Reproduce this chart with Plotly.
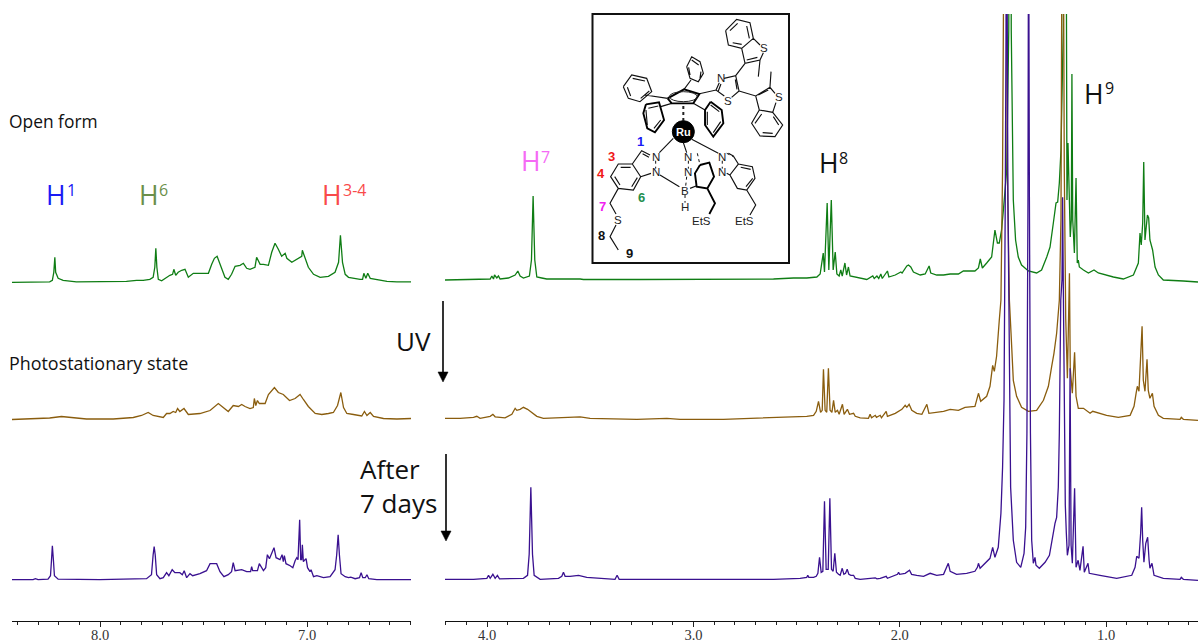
import plotly.graph_objects as go

# ---------- chemical shifts (ppm) and intensities ----------
open_arom_ppm = [8.426,8.324,8.244,8.231,8.224,8.219,8.215,8.203,8.179,8.115,8.002,7.873,7.824,7.792,7.760,7.744,7.736,7.731,7.726,7.719,7.703,7.679,7.663,7.650,7.644,7.635,7.623,7.606,7.590,7.574,7.550,7.534,7.518,7.477,7.461,7.448,7.435,7.421,7.397,7.381,7.365,7.348,7.324,7.308,7.292,7.276,7.252,7.244,7.236,7.227,7.211,7.187,7.171,7.155,7.139,7.123,7.106,7.098,7.074,7.050,7.026,7.023,7.010,6.994,6.969,6.937,6.897,6.865,6.848,6.839,6.829,6.816,6.800,6.776,6.744,6.732,6.726,6.716,6.707,6.695,6.671,6.614,6.566,6.498]
open_arom_int = [0,0.3,0.5,2,10,25,10,4,2,0.5,0.5,1,2,2,3,5,15,34,15,3,1.5,5,7,8,13,7,10,12,13,5,9,9,9,9,18,24,26,18,5,3,8,16,17,19,14,13,15,25,22,18,18,17,30,39,33,26,29,24,20,23,26,32,25,15,8,5,6,10,20,47,20,8,5,4,3,3,9,4,9,4,3,1,0.5,0.5]

pss_arom_ppm = [8.426,8.324,8.244,8.187,8.131,8.066,7.937,7.840,7.800,7.768,7.744,7.695,7.679,7.663,7.647,7.635,7.626,7.615,7.595,7.574,7.518,7.469,7.429,7.405,7.381,7.357,7.332,7.316,7.300,7.276,7.260,7.255,7.248,7.240,7.231,7.203,7.187,7.158,7.139,7.115,7.085,7.058,7.034,7.018,6.994,6.961,6.929,6.897,6.873,6.853,6.837,6.824,6.808,6.776,6.736,6.723,6.711,6.695,6.679,6.631,6.566,6.498]
pss_arom_int = [0,0.5,1.5,3,2,0.5,0.5,2,4,7,4,2,6,6,8,7,11,8,11,5,6,9,16,12,8,14,13,15,13,11,12,21,14,19,16,16,25,32,27,25,19,21,25,20,13,6,5,6,7,14,27,12,6,5,3.5,8,4,7,3,1,0.5,1]

after_arom_ppm = [8.426,8.324,8.313,8.300,8.252,8.240,8.235,8.231,8.226,8.221,8.203,8.002,7.776,7.752,7.744,7.739,7.734,7.727,7.711,7.695,7.679,7.668,7.652,7.639,7.615,7.603,7.594,7.582,7.566,7.553,7.518,7.486,7.469,7.437,7.421,7.402,7.381,7.365,7.357,7.348,7.316,7.292,7.273,7.268,7.263,7.240,7.231,7.211,7.200,7.192,7.182,7.166,7.160,7.150,7.131,7.121,7.115,7.110,7.102,7.082,7.069,7.058,7.050,7.044,7.036,7.031,7.026,7.023,7.018,7.010,7.005,6.998,6.986,6.981,6.969,6.953,6.921,6.889,6.865,6.857,6.850,6.844,6.836,6.816,6.800,6.789,6.768,6.747,6.739,6.731,6.719,6.711,6.702,6.663,6.498]
after_arom_int = [0,0,1,0,0.5,4,20,34,20,4,0.5,0,1,5,25,33,25,5,1,2,7,4,10,7,7,5,9,2,6,4,6,9,16,16,8,3,5,8,17,9,10,8,8,13,9,9,16,9,12,25,21,29,32,22,20,25,18,24,16,14,12,19,22,20,60,20,20,35,18,20,21,12,8,10,3,4,2,3,10,25,45,25,6,3,2,2.5,1,2,7,2,2,5,1,0,0]

open_aliph_ppm = [4.204,4.066,3.985,3.977,3.969,3.964,3.953,3.945,3.937,3.897,3.864,3.851,3.840,3.824,3.795,3.785,3.777,3.769,3.759,3.735,3.711,3.549,3.533,3.258,2.935,2.774,2.612,2.515,2.451,2.402,2.386,2.371,2.365,2.352,2.344,2.332,2.323,2.313,2.305,2.294,2.286,2.279,2.266,2.258,2.249,2.241,2.220,2.192,2.160,2.131,2.124,2.111,2.102,2.092,2.085,2.060,2.053,2.022,1.995,1.989,1.966,1.958,1.947,1.934,1.901,1.877,1.858,1.850,1.821,1.788,1.756,1.716,1.692,1.636,1.619,1.610,1.600,1.579,1.555,1.539,1.527,1.518,1.507,1.498,1.482,1.472,1.464,1.460,1.456,1.450,1.439,1.426,1.410,1.377,1.337,1.313,1.288,1.272,1.256,1.243,1.235,1.227,1.219,1.208,1.198,1.193,1.190,1.185,1.178,1.174,1.169,1.166,1.162,1.159,1.154,1.146,1.140,1.135,1.130,1.110,1.086,1.059,1.038,0.965,0.917,0.868,0.844,0.836,0.830,0.823,0.818,0.812,0.807,0.800,0.794,0.788,0.775,0.763,0.747,0.723,0.626,0.555]
open_aliph_int = [0,1,1,4,1,5,2,4,1,2,5,9,4,2,4,20,84,20,3,2,1,1,0.5,0.5,0.5,0.5,1,2,2,3,6,27,8,77,10,80,10,28,6,4,10,4,17,5,13,4,3,2,0.5,4,1.5,4,1.5,6,1.5,9,3,5,8,7,14,15,13,8,5,6,14,7,5,5,6,6,9,9,12,21,12,17,23,50,37,37,50,70,110,250,700,250,147,80,40,23,15,9,7,10,23,33,57,77,78,97,130,250,700,200,80,137,63,43,60,206,60,43,27,102,17,20,13,10,7,10,7,3,1,5,17,47,35,57,118,40,50,65,62,40,30,13,5,0,-1,-2]

pss_aliph_ppm = [4.204,4.131,4.066,4.050,4.034,3.985,3.972,3.961,3.913,3.880,3.864,3.856,3.840,3.824,3.804,3.783,3.759,3.727,3.565,3.549,3.501,3.274,3.129,3.065,2.855,2.693,2.531,2.451,2.418,2.405,2.394,2.384,2.376,2.370,2.362,2.354,2.346,2.338,2.329,2.321,2.313,2.302,2.294,2.278,2.270,2.254,2.244,2.224,2.216,2.192,2.152,2.144,2.137,2.119,2.113,2.095,2.089,2.066,2.060,2.022,1.990,1.974,1.966,1.955,1.942,1.918,1.893,1.869,1.859,1.821,1.788,1.756,1.716,1.684,1.636,1.628,1.619,1.608,1.579,1.563,1.550,1.542,1.531,1.518,1.510,1.502,1.490,1.479,1.469,1.461,1.450,1.434,1.410,1.377,1.337,1.304,1.280,1.264,1.253,1.240,1.227,1.219,1.211,1.203,1.196,1.188,1.178,1.174,1.169,1.164,1.153,1.146,1.135,1.110,1.078,1.065,0.998,0.941,0.884,0.865,0.855,0.849,0.841,0.834,0.826,0.820,0.812,0.802,0.796,0.788,0.776,0.768,0.747,0.723,0.642,0.636,0.626,0.555]
pss_aliph_int = [0,0,1,2,0,2,4,1.5,0.5,4,10,8,9,11,9,6,2,0,1,1.5,0,-1,0,-1,-1,0,1,2,3,7,17,6,8,49,8,6,50,8,6,18,6,8,4,14,4,9,4,5,2,0.5,0,4,0.5,3,1,3,0.5,7,2,5,9,13,11,14,8,5,4,14,5,6,7,9,8,11,12,18,25,17,22,32,53,47,62,98,118,250,700,250,118,85,38,22,11,7,8,18,32,52,65,85,118,200,700,250,100,40,145,50,40,25,66,22,10,10,5,7,3,1,3,12,25,32,27,52,92,38,27,59,28,20,25,12,3,0,-1,1,-1,-2]

after_aliph_ppm = [4.204,4.066,4.001,3.993,3.985,3.972,3.961,3.950,3.940,3.872,3.824,3.804,3.796,3.788,3.780,3.772,3.743,3.654,3.638,3.630,3.622,3.598,3.557,3.517,3.452,3.380,3.370,3.360,3.258,2.935,2.612,2.483,2.451,2.446,2.441,2.418,2.405,2.397,2.389,2.381,2.373,2.365,2.357,2.347,2.339,2.331,2.323,2.315,2.307,2.297,2.289,2.279,2.271,2.263,2.255,2.247,2.237,2.224,2.216,2.192,2.144,2.119,2.111,2.095,2.066,2.060,2.011,2.006,2.001,1.974,1.953,1.943,1.918,1.885,1.853,1.821,1.788,1.765,1.756,1.725,1.676,1.636,1.624,1.619,1.611,1.587,1.563,1.550,1.539,1.523,1.510,1.502,1.495,1.489,1.482,1.476,1.469,1.463,1.450,1.434,1.414,1.398,1.390,1.384,1.379,1.376,1.372,1.367,1.361,1.353,1.345,1.340,1.324,1.296,1.275,1.264,1.248,1.240,1.232,1.227,1.220,1.214,1.211,1.208,1.204,1.201,1.198,1.193,1.188,1.180,1.175,1.170,1.164,1.153,1.146,1.136,1.127,1.112,1.106,1.088,1.082,1.030,0.949,0.876,0.860,0.852,0.841,0.833,0.828,0.823,0.817,0.808,0.799,0.792,0.788,0.778,0.768,0.723,0.642,0.636,0.626,0.555]
after_aliph_int = [0,0,1,4,1,5,1,4,0.5,1,1,4,25,92,25,4,0,1,3,7,3,3,4,2,1,0,4,0,0,0,0,1,2,4,2,2,3,6,22,7,8,78,10,10,81,10,8,26,7,5,4,11,5,6,10,5,4,4,1,0,0.5,1.5,0.5,1,3,1,5,7,5,6,9,5,4,3,6,4,5,16,8,5,6,8,12,16,11,16,21,32,22,32,66,112,179,379,700,379,179,92,39,17,12,26,52,146,379,700,379,146,39,16,22,14,11,17,24,39,56,62,92,146,279,300,382,300,212,134,74,46,24,34,211,34,16,91,12,19,9,33,7,16,6,4,1,4,12,23,21,46,72,39,17,36,42,19,11,16,4,1,0,2,0,-1]

spectra_left = [("Open form", open_arom_ppm, open_arom_int, 359.7, "#0f7d14"),
                ("Photostationary state", pss_arom_ppm, pss_arom_int, 222.5, "#8a5d0e"),
                ("After 7 days", after_arom_ppm, after_arom_int, 62.3, "#3a1190")]
spectra_right = [("Open form", open_aliph_ppm, open_aliph_int, 362.0, "#0f7d14"),
                 ("Photostationary state", pss_aliph_ppm, pss_aliph_int, 223.7, "#8a5d0e"),
                 ("After 7 days", after_aliph_ppm, after_aliph_int, 62.7, "#3a1190")]

W, H = 1198, 642
def px(x): return x / W
def py(y): return 1 - y / H

fig = go.Figure()
for xa, group in (("x", spectra_left), ("x2", spectra_right)):
    for name, ppm, inten, base, col in group:
        fig.add_trace(go.Scatter(x=ppm, y=[base + v for v in inten], mode="lines", xaxis=xa, yaxis="y",
                                 name=name, showlegend=False, hoverinfo="skip",
                                 line=dict(color=col, width=1.3)))

axis_style = dict(anchor="free", position=21 / H, automargin=False, showgrid=False, zeroline=False, showline=True,
                  linecolor="#111", linewidth=1.3, ticks="outside", ticklen=5, tickwidth=1, tickcolor="#222",
                  tick0=0, dtick=1, tickformat=".1f", ticklabelstandoff=-5,
                  minor=dict(dtick=0.1, tick0=0, ticks="outside", ticklen=3, tickwidth=1, tickcolor="#222", showgrid=False),
                  tickfont=dict(family="Liberation Serif", size=14.5, color="#333"))

# ---------- inset structure: drawn in the inset's own frame ----------
OX, OY, S = 590, 10, 1 / 3
def sx(v): return px(OX + v * S)
def sy(v): return py(OY + v * S)

thin = [
 [(407,62),(440,28),(480,38),(490,85),(455,115),(415,105),(407,62)], [(420,62),(443,40)], [(470,48),(478,85)], [(428,98),(455,103)],
 [(490,85),(510,105)], [(520,128),(510,150),(465,160),(455,115)], [(502,142),(470,150)], [(510,150),(505,200)], [(465,160),(437,197)],
 [(378,240),(388,218)], [(385,243),(393,222)], [(402,205),(437,197),(447,243),(425,262)], [(436,208),(441,238)], [(403,258),(378,240),(325,252)],
 [(447,243),(497,258),(540,232),(555,250)], [(505,255),(535,240)], [(497,258),(508,300),(548,307),(558,278)],
 [(540,232),(543,185)], [(508,300),(548,307),(578,345),(555,380),(510,378),(485,340),(508,300)], [(515,312),(495,340)], [(550,320),(566,345)], [(518,368),(548,370)],
 [(282,238),(303,210)], [(290,170),(305,140),(330,155),(340,190),(325,215),(300,205),(290,170)], [(305,150),(326,165)], [(300,195),(296,172)], [(330,205),(333,185)],
 [(233,265),(165,255)], [(100,230),(125,195),(170,205),(185,245),(150,275),(115,265),(100,230)], [(128,205),(165,213)], [(112,232),(122,258)], [(178,243),(152,265)],
 [(245,280),(212,290)], [(310,280),(345,300)],
 [(250,385),(208,428)], [(280,398),(290,428)], [(305,388),(385,430)],
 [(180,435),(155,422),(127,462)], [(177,442),(158,431)], [(127,462),(85,462),(62,500),(85,535),(130,540),(152,500),(127,462)], [(92,472),(122,472)], [(74,500),(90,525)], [(125,530),(142,503)],
 [(152,500),(183,490)], [(210,495),(268,530)], [(85,535),(60,580),(78,612)], [(78,645),(60,680),(85,720)],
 [(300,535),(318,528)],
 [(445,462),(487,470),(495,505),(470,540),(442,535),(420,495),(445,462)], [(452,472),(482,478)], [(488,505),(468,530)], [(470,540),(497,585),(480,615)],
 [(415,430),(430,438),(445,462)], [(420,495),(410,490)],
 [(175,295),(205,288)], [(212,330),(192,355)], [(172,345),(168,300)],
 [(362,285),(388,305)], [(392,335),(370,368)], [(352,345),(352,305)],
]
thick = [
 [(233,265),(282,238),(328,252),(310,280),(245,280),(233,265)],
 [(168,283),(207,277),(222,330),(195,367),(172,355),(160,310),(168,283)], [(362,275),(395,300),(400,340),(370,380),(345,345),(345,300),(362,275)],
 [(330,465),(358,458),(372,500),(352,535),(320,530),(315,490),(330,465)], [(352,535),(375,580),(358,612)],
]
dotted = [[(197,452),(197,476)], [(295,452),(295,476)], [(397,452),(397,476)], [(285,555),(285,578)],
          [(290,500),(287,530)], [(322,430),(330,465)], [(410,430),(430,440)]]
def pathify(polys):
    return " ".join("M " + " L ".join(f"{sx(a):.4f} {sy(b):.4f}" for a, b in p) for p in polys)

shapes = [
 dict(type="rect", xref="paper", yref="paper", x0=px(592.5), x1=px(789), y0=py(263), y1=py(14), line=dict(color="#111", width=2), fillcolor="white", layer="above"),
 dict(type="path", xref="paper", yref="paper", path=pathify(thin), line=dict(color="#111", width=1.15), layer="above"),
 dict(type="path", xref="paper", yref="paper", path=pathify(thick), line=dict(color="#000", width=1.9), layer="above"),
 dict(type="path", xref="paper", yref="paper", path=pathify(dotted), line=dict(color="#111", width=1, dash="dot"), layer="above"),
 dict(type="circle", xref="paper", yref="paper", x0=sx(238), x1=sx(322), y0=sy(275), y1=sy(245), line=dict(color="#222", width=1), layer="above"),
 dict(type="line", xref="paper", yref="paper", x0=sx(280), x1=sx(280), y0=sy(288), y1=sy(332), line=dict(color="#222", width=2, dash="dot"), layer="above"),
 dict(type="circle", xref="paper", yref="paper", x0=sx(247), x1=sx(313), y0=sy(398), y1=sy(332), line=dict(color="black", width=1), fillcolor="black", layer="above"),
 # reaction arrows
 dict(type="line", xref="paper", yref="paper", x0=px(443), x1=px(443), y0=py(301), y1=py(374), line=dict(color="black", width=1.6)),
 dict(type="path", xref="paper", yref="paper", path=f"M {px(438):.4f} {py(372):.4f} L {px(448):.4f} {py(372):.4f} L {px(443):.4f} {py(382):.4f} Z", fillcolor="black", line=dict(color="black", width=0.5)),
 dict(type="line", xref="paper", yref="paper", x0=px(446), x1=px(446), y0=py(454), y1=py(533), line=dict(color="black", width=1.6)),
 dict(type="path", xref="paper", yref="paper", path=f"M {px(441):.4f} {py(531):.4f} L {px(451):.4f} {py(531):.4f} L {px(446):.4f} {py(541):.4f} Z", fillcolor="black", line=dict(color="black", width=0.5)),
]

def note(x, y, text, size, color="#111", family="Open Sans", anchor="left"):
    return dict(xref="paper", yref="paper", x=px(x), y=py(y), text=text, showarrow=False, xanchor=anchor, yanchor="middle", align="left",
                font=dict(family=family, size=size, color=color), borderpad=0, borderwidth=0)

SANS = "Liberation Sans"
annotations = [
 note(9, 120.5, "Open form", 17.4), note(9, 362.5, "Photostationary state", 17.9),
 note(396, 341, "UV", 26), note(360, 486, "After<br>7 days", 26),
 note(OX + 280 * S, OY + 365 * S, "<b>Ru</b>", 11, "white", SANS, "center"),
]
proton_labels = [(45.5, 194.5, 66.5, 190, "1", "#1a1af5"), (139, 194.5, 159, 190, "6", "#6b8f4a"), (321.5, 194.5, 342.5, 190, "3-4", "#f94a4a"),
                 (520.5, 161.5, 541, 157, "7", "#f56af5"), (818.5, 162.5, 839, 158, "8", "#111"), (1084, 94, 1104.5, 88.5, "9", "#111")]
for hx, hy, sup_x, sup_y, t, c in proton_labels:
    annotations.append(note(hx, hy, "H", 26.5, c))
    annotations.append(note(sup_x, sup_y, t, 16, c))
atoms = [(197,440,"N"),(197,487,"N"),(295,440,"N"),(295,487,"N"),(397,440,"N"),(397,487,"N"),(393,203,"N"),(415,273,"S"),(523,115,"S"),(568,262,"S"),
         (85,630,"S"),(285,543,"B"),(285,590,"H"),(335,633,"EtS"),(462,633,"EtS")]
for a, b, t in atoms:
    annotations.append(note(OX + a * S, OY + b * S, t, 11.5, "#222", SANS, "center"))
nums = [(150,395,"1","#1a1af5"),(65,440,"3","#f01818"),(32,492,"4","#f01818"),(155,563,"6","#1f8f4f"),(38,590,"7","#f020f0"),(33,677,"8","#111"),(118,730,"9","#111")]
for a, b, t, c in nums:
    annotations.append(note(OX + a * S, OY + b * S, f"<b>{t}</b>", 13, c, SANS, "center"))

fig.update_layout(
    width=W, height=H, margin=dict(l=0, r=0, t=0, b=0, autoexpand=False), autosize=False,
    paper_bgcolor="white", plot_bgcolor="rgba(0,0,0,0)", showlegend=False,
    xaxis=dict(domain=[12 / W, 411 / W], range=[8.426, 6.498], **axis_style),
    xaxis2=dict(domain=[445 / W, 1], range=[4.204, 0.555], **axis_style),
    yaxis=dict(domain=[0, 628 / H], range=[0, 628], visible=False, fixedrange=True),
    shapes=shapes, annotations=annotations,
)
fig.write_html("out.html", config={"displayModeBar": False},
               post_script="document.body.style.margin='0';")
